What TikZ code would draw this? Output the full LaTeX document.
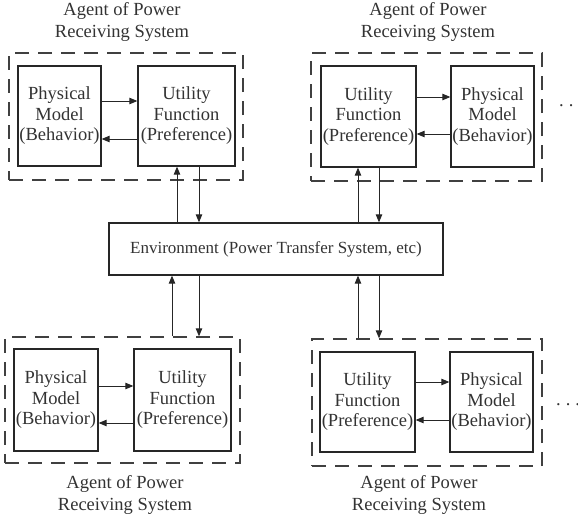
\documentclass[tikz,border=0pt]{standalone}
\usepackage{fontspec}
\setmainfont{Liberation Serif}
\usetikzlibrary{arrows.meta}
\tikzset{
  blk/.style={draw=black!85, line width=1.3pt, inner sep=0pt, align=center,
    font=\fontsize{18.5}{20.5}\selectfont, text=black!80},
  grp/.style={draw=black!75, line width=1.4pt, dash pattern=on 14pt off 9pt},
  ttl/.style={align=center, font=\fontsize{18.5}{22}\selectfont, text=black!80, inner sep=0pt},
  arr/.style={draw=black!85, line width=0.9pt, -{Triangle[length=8pt,width=6.5pt]}},
  dotsn/.style={inner sep=0pt, anchor=west, font=\fontsize{18.5}{22}\selectfont, text=black!80}
}
\begin{document}
\begin{tikzpicture}[x=1pt,y=-1pt]
\useasboundingbox (0,0) rectangle (578,520);

% Environment
\node[blk, minimum width=334pt, minimum height=52pt, font=\fontsize{17}{20}\selectfont] (env) at (276,249) {Environment (Power Transfer System, etc)};

% ---- Top-left agent
\node[grp, minimum width=234pt, minimum height=127pt, inner sep=0pt] (g1) at (126,116.5) {};
\node[blk, minimum width=83pt, minimum height=100pt] (p1) at (59.5,116) {Physical\\Model\\(Behavior)};
\node[blk, minimum width=97pt, minimum height=100pt] (u1) at (186.5,116) {Utility\\Function\\(Preference)};
\node[ttl] (t1) at (122,22) {Agent of Power\\Receiving System};
\coordinate (a1s) at (p1.east |- 0,101);
\coordinate (a1e) at (u1.west |- 0,101);
\coordinate (b1s) at (u1.west |- 0,139);
\coordinate (b1e) at (p1.east |- 0,139);
\draw[arr] (a1s) -- (a1e);
\draw[arr] (b1s) -- (b1e);
\coordinate (v1a) at (177,0);
\coordinate (v1b) at (199,0);
\draw[arr] (env.north -| v1a) -- (u1.south -| v1a);
\draw[arr] (u1.south -| v1b) -- (env.north -| v1b);

% ---- Top-right agent
\node[grp, minimum width=231pt, minimum height=128pt, inner sep=0pt] (g2) at (426.5,117) {};
\node[blk, minimum width=95pt, minimum height=101pt] (u2) at (368.5,116.5) {Utility\\Function\\(Preference)};
\node[blk, minimum width=83pt, minimum height=101pt] (p2) at (492.5,116.5) {Physical\\Model\\(Behavior)};
\node[ttl] (t2) at (428,22) {Agent of Power\\Receiving System};
\coordinate (a2s) at (u2.east |- 0,97);
\coordinate (a2e) at (p2.west |- 0,97);
\coordinate (b2s) at (p2.west |- 0,134);
\coordinate (b2e) at (u2.east |- 0,134);
\draw[arr] (a2s) -- (a2e);
\draw[arr] (b2s) -- (b2e);
\coordinate (v2a) at (358,0);
\coordinate (v2b) at (379,0);
\draw[arr] (env.north -| v2a) -- (u2.south -| v2a);
\draw[arr] (u2.south -| v2b) -- (env.north -| v2b);
\node[dotsn] (d2) at (559,106) {.\hspace{5pt}.\hspace{5pt}.};

% ---- Bottom-left agent
\node[grp, minimum width=235pt, minimum height=126pt, inner sep=0pt] (g3) at (122.5,400) {};
\node[blk, minimum width=84pt, minimum height=102pt] (p3) at (56,400) {Physical\\Model\\(Behavior)};
\node[blk, minimum width=97pt, minimum height=102pt] (u3) at (182.5,400) {Utility\\Function\\(Preference)};
\node[ttl] (t3) at (125,495) {Agent of Power\\Receiving System};
\coordinate (a3s) at (p3.east |- 0,386);
\coordinate (a3e) at (u3.west |- 0,386);
\coordinate (b3s) at (u3.west |- 0,423);
\coordinate (b3e) at (p3.east |- 0,423);
\draw[arr] (a3s) -- (a3e);
\draw[arr] (b3s) -- (b3e);
\coordinate (v3a) at (172,0);
\coordinate (v3b) at (199,0);
\draw[arr] (g3.north -| v3a) -- (env.south -| v3a);
\draw[arr] (env.south -| v3b) -- (g3.north -| v3b);

% ---- Bottom-right agent
\node[grp, minimum width=230pt, minimum height=127pt, inner sep=0pt] (g4) at (427,402.5) {};
\node[blk, minimum width=95pt, minimum height=100pt] (u4) at (367.5,402) {Utility\\Function\\(Preference)};
\node[blk, minimum width=83pt, minimum height=100pt] (p4) at (491.5,402) {Physical\\Model\\(Behavior)};
\node[ttl] (t4) at (419,495) {Agent of Power\\Receiving System};
\coordinate (a4s) at (u4.east |- 0,382);
\coordinate (a4e) at (p4.west |- 0,382);
\coordinate (b4s) at (p4.west |- 0,420);
\coordinate (b4e) at (u4.east |- 0,420);
\draw[arr] (a4s) -- (a4e);
\draw[arr] (b4s) -- (b4e);
\coordinate (v4a) at (358,0);
\coordinate (v4b) at (379,0);
\draw[arr] (g4.north -| v4a) -- (env.south -| v4a);
\draw[arr] (env.south -| v4b) -- (g4.north -| v4b);
\node[dotsn] (d4) at (556,405) {.\hspace{5pt}.\hspace{5pt}.};
\end{tikzpicture}
\end{document}
